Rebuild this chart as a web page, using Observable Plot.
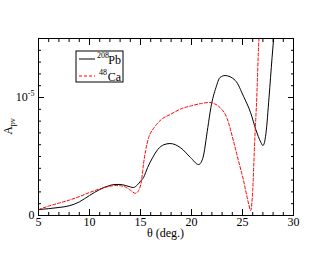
<!DOCTYPE html>
<html><head><meta charset="utf-8">
<script src="https://cdn.jsdelivr.net/npm/d3@7"></script>
<script src="https://cdn.jsdelivr.net/npm/@observablehq/plot@0.6"></script>
<style>body{margin:0;background:#fff} svg text{font-family:'Liberation Serif','Times New Roman',serif !important;}</style>
</head><body><div id="chart"></div>
<script>
// A_pv values in units of 1e-6
const pbTheta = [5,6,7,8,9,10,11,12,12.5,13,13.5,14,14.3,14.7,15,15.3,15.7,16.2,16.7,17.3,17.9,18.9,19.9,20.7,21.1,21.6,21.9,22.4,22.8,23.3,24.3,25.1,25.8,26.3,26.8,27.0,27.3,27.6,27.9,28.2];
const pbA = [0.5,0.58,0.68,0.82,1.15,1.7,2.2,2.55,2.63,2.63,2.55,2.42,2.37,2.6,2.9,3.22,4.07,4.92,5.6,6.0,6.1,5.76,4.92,4.32,4.83,7.46,9.15,10.85,11.7,11.86,11.44,10.1,8.7,7.3,6.2,5.93,6.95,10.0,13.4,16.5];
const caTheta = [5,6,7,8,9,10,11,12,12.5,13,13.5,14,14.5,14.8,15.1,15.3,15.5,15.8,16.3,17,18,19,20,21,21.8,22.3,22.8,23.5,24.1,24.6,25.1,25.6,25.8,26.0,26.2,26.4,26.6,26.7];
const caA = [0.5,0.8,1.05,1.3,1.6,1.95,2.25,2.48,2.54,2.52,2.42,2.15,1.88,2.1,2.97,4.4,5.5,6.6,7.4,8.1,8.6,9.05,9.3,9.5,9.58,9.45,9.15,8.2,6.36,4.66,2.97,1.0,0.42,2.1,6.36,10,14.8,16];
const xMajor = [5,10,15,20,25,30];
const xMinor = d3.range(5,31,1);
const yMajor = [0,10];
const yMinor = d3.range(0,16,1);
const yLabels = {0:"0", 10:"10-5"};
const seriesSup = ["208","48"];
const seriesEl = ["Pb","Ca"];

const pb = pbTheta.map((t,i)=>({t, a: pbA[i]}));
const ca = caTheta.map((t,i)=>({t, a: caA[i]}));

const font = "'Liberation Serif','Times New Roman',serif";
const plot = Plot.plot({
  width: 330, height: 255,
  marginLeft: 38, marginRight: 37, marginTop: 38, marginBottom: 40,
  style: {fontFamily: font, fontSize: "12px", background: "#fff", color: "#000"},
  x: {domain: [5,30]},
  y: {domain: [0,15]},
  marks: [
    Plot.line(pb, {x:"t", y:"a", stroke:"#000", strokeWidth:1, curve:"monotone-x", clip:true}),
    Plot.line(ca, {x:"t", y:"a", stroke:"#f00", strokeWidth:1, strokeDasharray:"3,2", curve:"monotone-x", clip:true}),
    Plot.axisX(xMinor, {anchor:"bottom", tickSize:-3, text:null, label:null}),
    Plot.axisX(xMajor, {anchor:"bottom", tickSize:-6, text:null, label:null}),
    Plot.axisX(xMajor, {anchor:"bottom", tickSize:0, tickPadding:2, label:null, fontSize:12}),
    Plot.axisX(xMinor, {anchor:"top", tickSize:-3, text:null, label:null}),
    Plot.axisX(xMajor, {anchor:"top", tickSize:-6, text:null, label:null}),
    Plot.axisY(yMinor, {anchor:"left", tickSize:-3, text:null, label:null}),
    Plot.axisY(yMajor, {anchor:"left", tickSize:-6, text:null, label:null}),
    Plot.axisY(yMajor, {anchor:"left", tickSize:0, tickPadding:4, label:null, tickFormat: d => yLabels[d], fontSize:12}),
    Plot.axisY(yMinor, {anchor:"right", tickSize:-3, text:null, label:null}),
    Plot.axisY(yMajor, {anchor:"right", tickSize:-6, text:null, label:null}),
    Plot.frame({stroke:"#000"})
  ]
});
document.getElementById("chart").appendChild(plot);
const svg = d3.select(plot);

// superscript exponent
svg.selectAll("text").each(function(){
  if (this.textContent === "10-5") {
    const el = d3.select(this);
    el.text("10");
    el.append("tspan").attr("dy", "-5").attr("font-size", "8px").text("-5");
  }
});

const L = 38, T = 38, B = 215, R = 293;
// axis labels
svg.append("text").attr("x", (L+R)/2).attr("y", 237).attr("text-anchor","middle")
  .attr("font-size", "12px").text("θ (deg.)");
const yl = svg.append("text").attr("transform", `translate(12,${(T+B)/2}) rotate(-90)`)
  .attr("text-anchor","middle").attr("font-size","12px");
yl.append("tspan").text("A");
yl.append("tspan").attr("dy","3").attr("font-size","8px").text("pv");

// legend
const lg = svg.append("g");
lg.append("rect").attr("x", L+38).attr("y", T+13).attr("width", 47).attr("height", 31)
  .attr("fill","#fff").attr("stroke","#000");
const styles = [{stroke:"#000", dash:null},{stroke:"#f00", dash:"3,2"}];
seriesEl.forEach((n,i) => {
  const yy = T + 21 + i*17;
  lg.append("line").attr("x1", L+41).attr("x2", L+57).attr("y1", yy).attr("y2", yy)
    .attr("stroke", styles[i].stroke).attr("stroke-dasharray", styles[i].dash);
  const xe = L + 83; // right edge of label
  lg.append("text").attr("x", xe).attr("y", yy+5).attr("font-size","12px")
    .attr("text-anchor","end").style("text-anchor","end").text(n);
  lg.append("text").attr("x", xe - (i === 0 ? 12 : 14)).attr("y", yy-1).attr("font-size","8px")
    .attr("text-anchor","end").style("text-anchor","end").text(seriesSup[i]);
});
</script>
</body></html>
